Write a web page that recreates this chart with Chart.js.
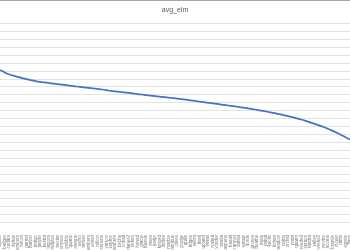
<!DOCTYPE html>
<html>
<head>
<meta charset="utf-8">
<script src="https://cdn.jsdelivr.net/npm/chart.js@4.4.1/dist/chart.umd.min.js"></script>
<style>
    html, body { margin: 0; padding: 0; background: #fff; overflow: hidden; }
    #wrap { width: 350px; height: 249px; border-top: 1px solid #a6a6a6; }
</style>
</head>
<body>
<div id="wrap"><canvas id="chart" width="350" height="249"></canvas></div>
<script>
// chart values
const chartTitle = 'avg_elm';

const categories = [
    'alpine', 'badger', 'cedars', 'deltas', 'embers', 'falcon', 'garnet', 'harbor',
    'indigo', 'jasper', 'kestra', 'lagoon', 'maples', 'nectar', 'onyxes', 'pebble',
    'quartz', 'ravens', 'saffro', 'timber', 'umbers', 'velvet', 'willow', 'xenons',
    'yarrow', 'zephyr', 'ambers', 'birchs', 'cobalt', 'dunes2', 'elders', 'ferned',
    'glacie', 'hazels', 'irises', 'junipr', 'kelped', 'linden', 'marble', 'nimbus',
    'olives', 'poplar', 'quills', 'ridges', 'sierra', 'thistl', 'upland', 'vistas',
    'walnut', 'yonder', 'zinnia', 'aspens', 'basalt', 'canyon', 'dahlia', 'estuar',
    'fjords', 'groves', 'heaths', 'islets', 'jadeit', 'knolls', 'lichen', 'meadow',
    'nettle', 'orchid', 'prairi', 'quarry', 'reeded', 'spruce', 'tundra', 'valley',
    'wrens2', 'yewtre', 'acorns', 'bramle', 'clover', 'drifts', 'egrets', 'flints'
];

const avgElm = [
    19.12, 18.85, 18.60, 18.42, 18.28, 18.12, 17.98, 17.86, 17.74, 17.64,
    17.57, 17.50, 17.42, 17.35, 17.28, 17.22, 17.15, 17.08, 17.01, 16.95,
    16.88, 16.82, 16.75, 16.68, 16.60, 16.50, 16.43, 16.37, 16.32, 16.25,
    16.18, 16.11, 16.05, 15.98, 15.92, 15.85, 15.79, 15.72, 15.66, 15.60,
    15.53, 15.46, 15.39, 15.31, 15.24, 15.16, 15.09, 15.01, 14.93, 14.86,
    14.78, 14.70, 14.63, 14.55, 14.47, 14.39, 14.30, 14.21, 14.11, 14.02,
    13.92, 13.81, 13.70, 13.58, 13.46, 13.33, 13.19, 13.05, 12.90, 12.73,
    12.55, 12.36, 12.16, 11.96, 11.74, 11.50, 11.24, 10.96, 10.68, 10.38
];

const yMin = 0;
const yMax = 25;
const yStep = 1;

new Chart(document.getElementById('chart'), {
    type: 'line',
    data: {
        labels: categories,
        datasets: [
            {
                label: chartTitle,
                data: avgElm,
                borderColor: '#4472c4',
                borderWidth: 1.75,
                pointRadius: 0,
                fill: false,
                cubicInterpolationMode: 'monotone'
            }
        ]
    },
    options: {
        responsive: false,
        animation: false,
        layout: { padding: 0 },
        plugins: {
            legend: { display: false },
            tooltip: { enabled: false },
            title: {
                display: true,
                text: chartTitle,
                color: '#595959',
                font: { family: 'Liberation Sans', size: 7, weight: 'normal' },
                padding: { top: 5, bottom: 9 }
            }
        },
        scales: {
            x: {
                offset: false,
                grid: { display: false },
                border: { display: false },
                afterFit: (scale) => {
                    scale.height = 28;
                    scale.paddingLeft = 0;
                    scale.paddingRight = 0;
                },
                ticks: {
                    autoSkip: false,
                    minRotation: 90,
                    maxRotation: 90,
                    padding: 5,
                    color: '#808080',
                    font: { family: 'Liberation Sans', size: 4.5 }
                }
            },
            y: {
                min: yMin,
                max: yMax,
                afterFit: (scale) => { scale.width = 0; },
                ticks: { display: false, stepSize: yStep },
                grid: { color: '#e3e3e3', lineWidth: 1, drawTicks: false },
                border: { display: false }
            }
        }
    }
});
</script>
</body>
</html>
